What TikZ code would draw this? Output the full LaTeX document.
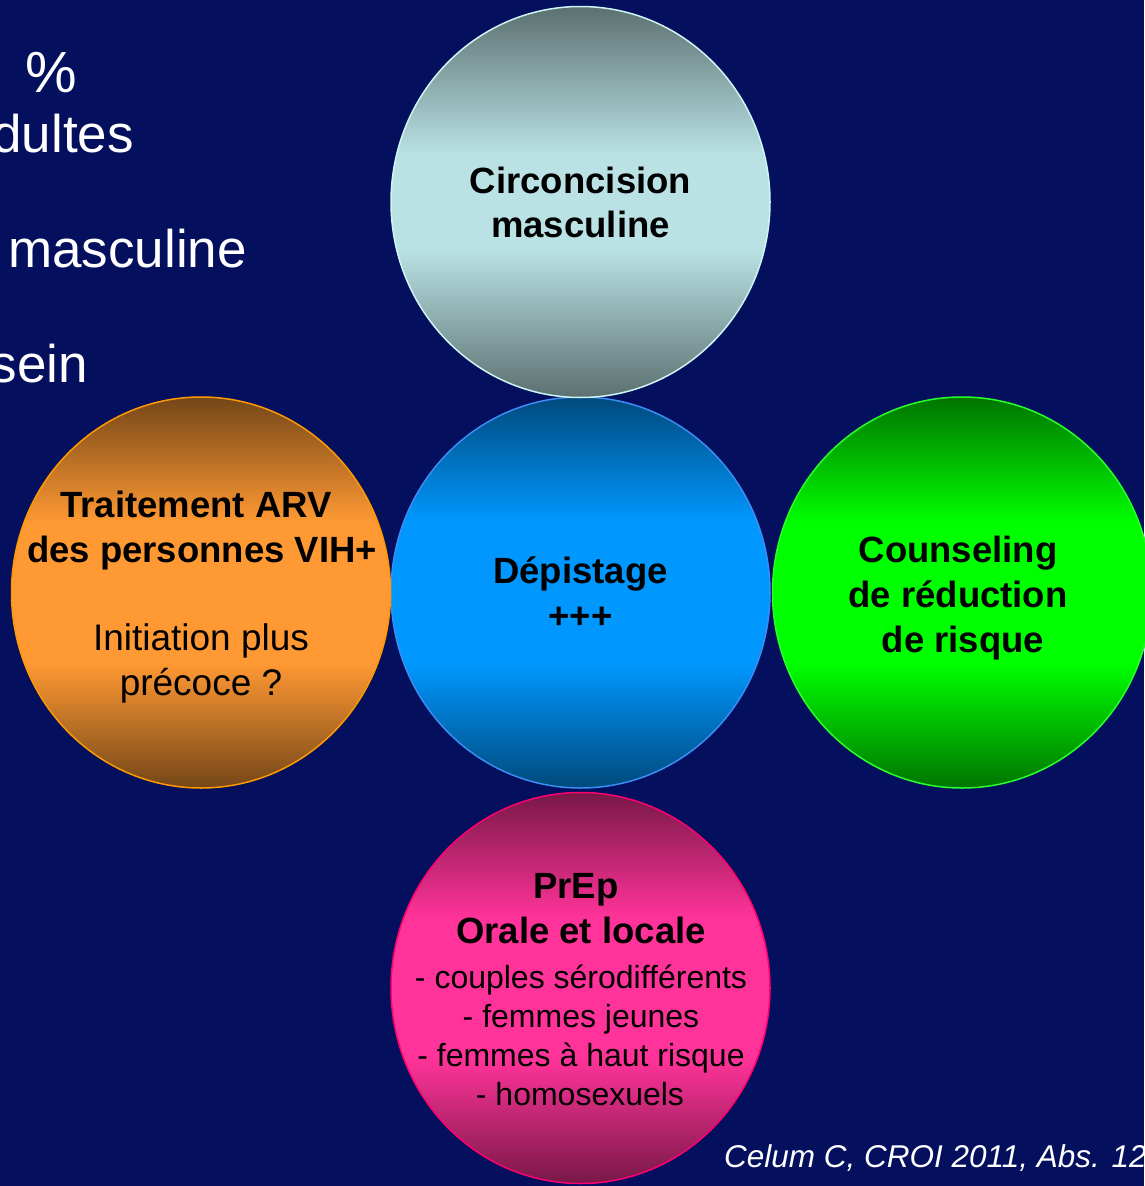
\documentclass[tikz,border=0pt]{standalone}
\usepackage{fontspec}
\setmainfont{Liberation Sans}
\usetikzlibrary{shapes.geometric}
\definecolor{bg}{RGB}{4,15,94}
\definecolor{topD}{RGB}{92,112,112}
\definecolor{topL}{RGB}{186,226,229}
\definecolor{topE}{RGB}{205,245,245}
\definecolor{midD}{RGB}{0,74,124}
\definecolor{midL}{RGB}{0,152,255}
\definecolor{midE}{RGB}{60,140,245}
\definecolor{lefD}{RGB}{116,70,24}
\definecolor{lefL}{RGB}{255,153,51}
\definecolor{lefE}{RGB}{255,153,0}
\definecolor{rigD}{RGB}{0,116,0}
\definecolor{rigL}{RGB}{0,255,0}
\definecolor{rigE}{RGB}{40,255,40}
\definecolor{botD}{RGB}{120,24,72}
\definecolor{botL}{RGB}{255,51,153}
\definecolor{botE}{RGB}{255,0,110}
\pgfdeclareverticalshading{shTop}{100bp}{color(0bp)=(topD); color(25bp)=(topD); color(44bp)=(topL); color(56bp)=(topL); color(75bp)=(topD); color(100bp)=(topD)}
\pgfdeclareverticalshading{shMid}{100bp}{color(0bp)=(midD); color(25bp)=(midD); color(41bp)=(midL); color(59bp)=(midL); color(75bp)=(midD); color(100bp)=(midD)}
\pgfdeclareverticalshading{shLef}{100bp}{color(0bp)=(lefD); color(25bp)=(lefD); color(41bp)=(lefL); color(59bp)=(lefL); color(75bp)=(lefD); color(100bp)=(lefD)}
\pgfdeclareverticalshading{shRig}{100bp}{color(0bp)=(rigD); color(25bp)=(rigD); color(41bp)=(rigL); color(59bp)=(rigL); color(75bp)=(rigD); color(100bp)=(rigD)}
\pgfdeclareverticalshading{shBot}{100bp}{color(0bp)=(botD); color(25bp)=(botD); color(41bp)=(botL); color(59bp)=(botL); color(75bp)=(botD); color(100bp)=(botD)}
\tikzset{
  bubble/.style={ellipse, minimum width=379pt, minimum height=391pt, inner sep=0pt, line width=1.5pt, shade},
  bold/.style={anchor=base, text=black, font=\fontsize{36.5}{44}\selectfont\bfseries, inner sep=0pt},
  plain/.style={anchor=base, text=black, font=\fontsize{37}{44}\selectfont, inner sep=0pt},
  small/.style={anchor=base, text=black, font=\fontsize{32}{39}\selectfont, inner sep=0pt},
  side/.style={anchor=base east, text=white, font=\fontsize{53}{60}\selectfont, inner sep=0pt},
  cite/.style={anchor=base west, text=white, font=\fontsize{31.5}{36}\selectfont\itshape, inner sep=0pt}
}
\begin{document}
\begin{tikzpicture}[x=1pt,y=-1pt]
\fill[bg] (0,0) rectangle (1144,1186);
\useasboundingbox (0,0) rectangle (1144,1186);
% left partial text (cut off at the left edge, as in the original slide)
\node[side, font=\fontsize{58}{60}\selectfont] (pct) at (77,92) {\%};
\node[side] (adu) at (134,152) {dultes};
\node[side] (mas) at (247,267) {masculine};
\node[side] (sei) at (88,382) {sein};
% circles
\node[bubble, shading=shMid, draw=midE] (dep) at (580.5,592.5) {};
\node[bubble, shading=shTop, draw=topE] (cir) at (580.5,202) {};
\node[bubble, shading=shLef, draw=lefE] (arv) at (201,592.5) {};
\node[bubble, shading=shRig, draw=rigE] (cou) at (962,592.5) {};
\node[bubble, shading=shBot, draw=botE] (pre) at (580.5,988) {};
% texts
\node[bold] (cir1) at (580.5,193) {Circoncision};
\node[bold] (cir2) at (580.5,237) {masculine};
\node[bold] (arv1) at (196,517) {Traitement ARV};
\node[bold] (arv2) at (202,562) {des personnes VIH+};
\node[plain] (arv3) at (201,650) {Initiation plus};
\node[plain] (arv4) at (201,695) {précoce ?};
\node[bold] (dep1) at (580.5,583) {Dépistage};
\node[bold] (dep2) at (580.5,628) {+++};
\node[bold] (cou1) at (958,562) {Counseling};
\node[bold] (cou2) at (958,607) {de réduction};
\node[bold] (cou3) at (963,652) {de risque};
\node[bold] (pre1) at (576,898) {PrEp};
\node[bold] (pre2) at (581,943) {Orale et locale};
\node[small] (pre3) at (581,988) {- couples sérodifférents};
\node[small] (pre4) at (581,1027) {- femmes jeunes};
\node[small] (pre5) at (581,1066) {- femmes à haut risque};
\node[small] (pre6) at (580,1105) {- homosexuels};
\node[cite] (cit) at (724,1167) {Celum C, CROI 2011, Abs. 12};
\end{tikzpicture}
\end{document}
